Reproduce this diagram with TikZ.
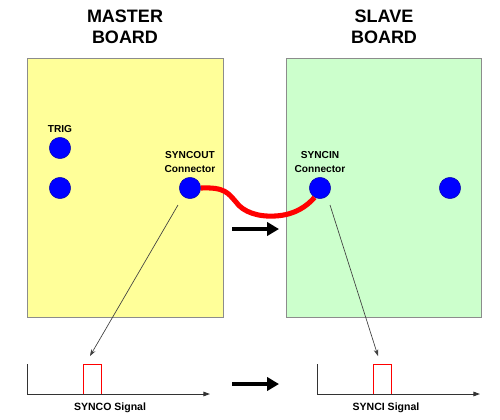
\documentclass[tikz,border=0pt]{standalone}
\usepackage{fontspec}
\setmainfont{Liberation Sans}
\usetikzlibrary{arrows.meta}
\definecolor{boardY}{HTML}{FFFF99}
\definecolor{boardG}{HTML}{CCFFCC}
\definecolor{edgegray}{HTML}{8C8C8C}
\definecolor{conblue}{HTML}{0000FF}
\tikzset{
  board/.style={draw=edgegray, line width=0.75pt, inner sep=0pt, anchor=north west},
  title/.style={font=\bfseries\fontsize{13.5}{16}\selectfont, align=center, inner sep=0pt},
  lbl/.style={font=\bfseries\fontsize{7.6}{10}\selectfont, align=center, inner sep=0pt},
  sig/.style={font=\bfseries\fontsize{7.9}{9}\selectfont, inner sep=0pt},
  conn/.style={circle, fill=conblue, draw=blue!60!black, line width=0.3pt, minimum size=16pt, inner sep=0pt},
  bigarrow/.style={line width=3pt, -{Triangle[length=9pt,width=10pt]}},
  thinarrow/.style={draw=black!75, line width=0.5pt, -{Stealth[length=5pt,width=3.5pt]}},
  axis/.style={line width=0.75pt, black!80},
  pulse/.style={draw=red, line width=0.75pt},
  cable/.style={draw=red, line width=3.8pt}
}
\begin{document}
\begin{tikzpicture}[x=0.75pt,y=-0.75pt]
\useasboundingbox (0,0) rectangle (500,419);
% boards
\node[board, fill=boardY, minimum width=196*0.75pt, minimum height=259*0.75pt] (master) at (27,58) {};
\node[board, fill=boardG, minimum width=195*0.75pt, minimum height=259*0.75pt] (slave) at (286,58) {};
% titles
\node[title] (mt) at (125,26.5) {MASTER\\BOARD};
\node[title] (st) at (384,26.5) {SLAVE\\BOARD};
% connectors
\node[lbl] (trig) at (60,129) {TRIG};
\node[conn] (c1) at (60,148) {};
\node[conn] (c2) at (60,188) {};
\node[conn] (so) at (190,188) {};
\node[lbl] (sol) at (190,162) {SYNCOUT\\Connector};
\node[conn] (si) at (320,188) {};
\node[lbl] (sil) at (320,162) {SYNCIN\\Connector};
\node[conn] (c3) at (450,188) {};
% cable
\draw[cable] (so.east) .. controls (225,187) and (228,193) .. (236,202)
  .. controls (243,212) and (258,217) .. (275,216)
  .. controls (295,215) and (307,206) .. (si.-120);
% big arrows
\coordinate (a1s) at (232,229);
\coordinate (a1e) at (279,229);
\draw[bigarrow] (a1s) -- (a1e);
\coordinate (a2s) at (232,384);
\coordinate (a2e) at (279,384);
\draw[bigarrow] (a2s) -- (a2e);
% thin arrows
\coordinate (t1s) at (178,205);
\coordinate (t1e) at (90,356);
\draw[thinarrow] (t1s) -- (t1e);
\coordinate (t2s) at (330,205);
\coordinate (t2e) at (378,356);
\draw[thinarrow] (t2s) -- (t2e);
% signal plots
\coordinate (o1) at (27,394);
\coordinate (y1) at (27,364);
\coordinate (x1) at (210,394);
\draw[axis] (y1) -- (o1);
\draw[axis, -{Triangle[length=5pt,width=3.5pt]}] (o1) -- (x1);
\draw[pulse] (83.3,394) -- (83.3,364) -- (101.3,364) -- (101.3,394);
\node[sig] (s1) at (110,408) {SYNCO Signal};
\coordinate (o2) at (317,394);
\coordinate (y2) at (317,364);
\coordinate (x2) at (480,394);
\draw[axis] (y2) -- (o2);
\draw[axis, -{Triangle[length=5pt,width=3.5pt]}] (o2) -- (x2);
\draw[pulse] (373.3,394) -- (373.3,364) -- (391.7,364) -- (391.7,394);
\node[sig] (s2) at (386,408) {SYNCI Signal};
\end{tikzpicture}
\end{document}
